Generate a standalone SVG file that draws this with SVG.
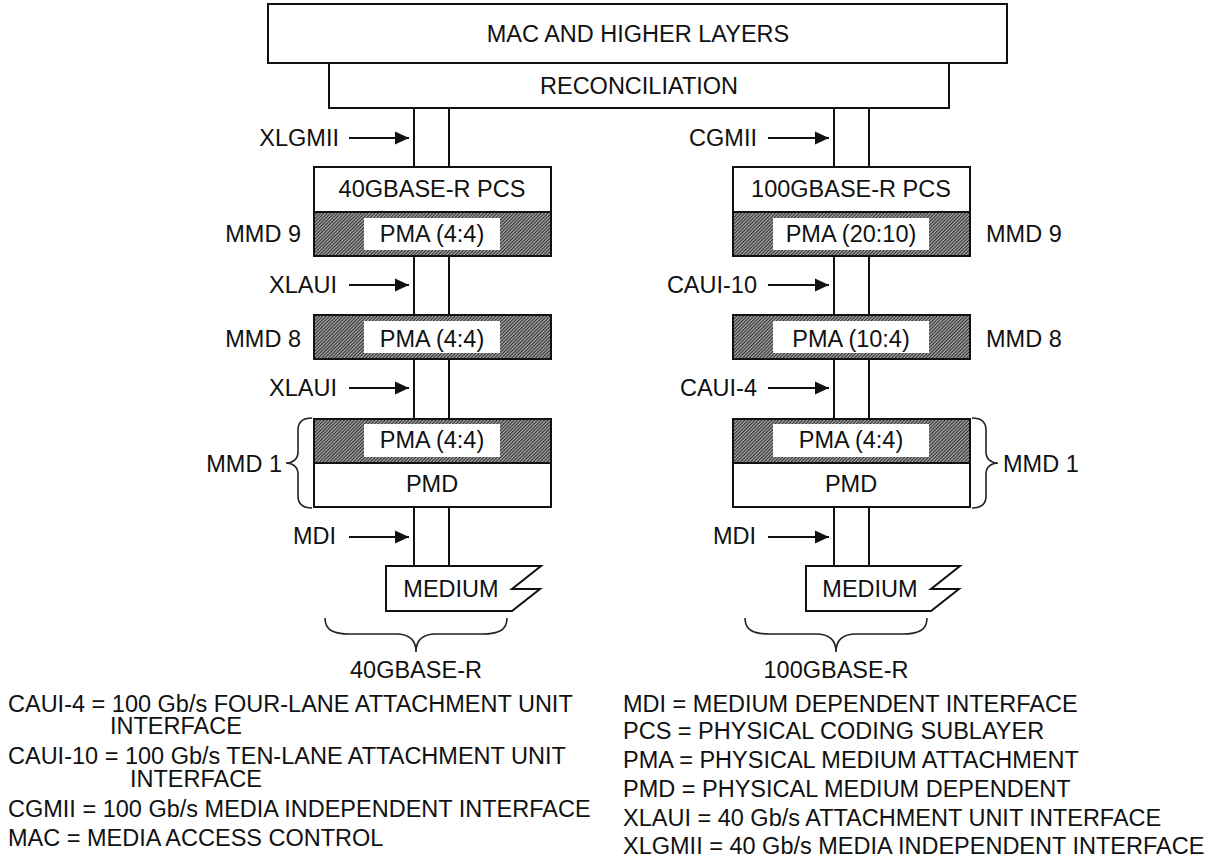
<svg xmlns="http://www.w3.org/2000/svg" width="1217" height="865" viewBox="0 0 1217 865">
  <style>
    text { font-family: "Liberation Sans", Arial, sans-serif; font-size: 23.5px; fill: #111; }
    .c { text-anchor: middle; }
    .e { text-anchor: end; }
    .box { fill: #fff; stroke: #111; stroke-width: 2; }
    .hatch { fill: url(#hatch); stroke: #111; stroke-width: 2; }
    .inner { fill: #fff; stroke: none; }
    .link { stroke: #111; stroke-width: 2; fill: none; }
    .arrow { stroke: #111; stroke-width: 2.2; fill: none; marker-end: url(#head); }
    .brace { stroke: #222; stroke-width: 1.6; fill: none; }
  </style>
  <defs>
    <!-- fine diagonal shading used for the PMA sublayers -->
    <pattern id="hatch" patternUnits="userSpaceOnUse" width="2.4" height="2.4" patternTransform="rotate(45)">
      <rect width="2.4" height="2.4" fill="#a8a8a8"/>
      <rect width="1.1" height="2.4" fill="#2e2e2e"/>
    </pattern>
    <marker id="head" markerWidth="14" markerHeight="14" refX="14" refY="7" orient="auto" markerUnits="userSpaceOnUse">
      <path d="M0,0.5 L14,7 L0,13.5 Z" fill="#111"/>
    </marker>
  </defs>

  <!-- shared upper layers -->
  <g id="mac">
    <rect class="box" x="268" y="4" width="739" height="59"/>
    <text class="c" x="638" y="42">MAC AND HIGHER LAYERS</text>
  </g>
  <g id="reconciliation">
    <rect class="box" x="329" y="63" width="620" height="45"/>
    <text class="c" x="639" y="94">RECONCILIATION</text>
  </g>

  <!-- vertical links between sublayers -->
  <g id="connectors">
    <path class="link" d="M414,108 V167 M449,108 V167"/>
    <path class="link" d="M414,256 V315 M449,256 V315"/>
    <path class="link" d="M414,359 V419 M449,359 V419"/>
    <path class="link" d="M414,507 V566 M449,507 V566"/>
    <path class="link" d="M834,108 V167 M869,108 V167"/>
    <path class="link" d="M834,256 V315 M869,256 V315"/>
    <path class="link" d="M834,359 V419 M869,359 V419"/>
    <path class="link" d="M834,507 V566 M869,507 V566"/>
    <!-- interface pointers -->
    <line class="arrow" x1="349" y1="138" x2="409" y2="138"/>
    <line class="arrow" x1="349" y1="285" x2="409" y2="285"/>
    <line class="arrow" x1="349" y1="388" x2="409" y2="388"/>
    <line class="arrow" x1="349" y1="537" x2="409" y2="537"/>
    <line class="arrow" x1="768" y1="138" x2="829" y2="138"/>
    <line class="arrow" x1="768" y1="285" x2="829" y2="285"/>
    <line class="arrow" x1="768" y1="388" x2="829" y2="388"/>
    <line class="arrow" x1="768" y1="537" x2="829" y2="537"/>
  </g>

  <!-- interface labels -->
  <g id="labels-40g">
    <text class="e" x="339" y="146">XLGMII</text>
    <text class="e" x="337" y="293">XLAUI</text>
    <text class="e" x="337" y="396">XLAUI</text>
    <text class="e" x="336" y="544">MDI</text>
    <text class="e" x="301" y="242">MMD 9</text>
    <text class="e" x="301" y="347">MMD 8</text>
    <text class="e" x="282" y="472">MMD 1</text>
  </g>
  <g id="labels-100g">
    <text class="e" x="757" y="146">CGMII</text>
    <text class="e" x="757" y="293">CAUI-10</text>
    <text class="e" x="757" y="396">CAUI-4</text>
    <text class="e" x="756" y="544">MDI</text>
    <text x="986" y="242">MMD 9</text>
    <text x="986" y="347">MMD 8</text>
    <text x="1003" y="472">MMD 1</text>
  </g>

  <!-- 40GBASE-R stack -->
  <g id="pcs-40g">
    <rect class="box" x="314" y="167" width="237" height="45"/>
    <text class="c" x="432" y="197">40GBASE-R PCS</text>
  </g>
  <g id="pma9-40g">
    <rect class="hatch" x="314" y="212" width="237" height="44"/>
    <rect class="inner" x="364" y="218" width="136" height="32"/>
    <text class="c" x="432" y="242">PMA (4:4)</text>
  </g>
  <g id="pma8-40g">
    <rect class="hatch" x="314" y="315" width="237" height="44"/>
    <rect class="inner" x="364" y="321" width="136" height="32"/>
    <text class="c" x="432" y="347">PMA (4:4)</text>
  </g>
  <g id="pma1-40g">
    <rect class="hatch" x="314" y="419" width="237" height="44"/>
    <rect class="inner" x="364" y="424" width="136" height="33"/>
    <text class="c" x="432" y="448">PMA (4:4)</text>
  </g>
  <g id="pmd-40g">
    <rect class="box" x="314" y="463" width="237" height="44"/>
    <text class="c" x="432" y="492">PMD</text>
  </g>
  <g id="medium-40g">
    <path class="box" d="M386,566 H541 L512,589 H540 L512,611 H386 Z"/>
    <text class="c" x="451" y="597">MEDIUM</text>
  </g>
  <g id="mmd1-brace-40g">
    <path class="brace" d="M312,418 C302,418 298,422 298,430 L298,452 C298,459 293,463 286,463 C293,463 298,467 298,474 L298,496 C298,504 302,508 312,508"/>
  </g>
  <g id="phy-40g">
    <path class="brace" d="M325,618 C325,630 333,634 350,634 L396,634 C409,634 416,640 416,652 C416,640 423,634 436,634 L482,634 C499,634 507,630 507,618"/>
    <text class="c" x="416" y="678">40GBASE-R</text>
  </g>

  <!-- 100GBASE-R stack -->
  <g id="pcs-100g">
    <rect class="box" x="733" y="167" width="237" height="45"/>
    <text class="c" x="851" y="197">100GBASE-R PCS</text>
  </g>
  <g id="pma9-100g">
    <rect class="hatch" x="733" y="212" width="237" height="44"/>
    <rect class="inner" x="773" y="218" width="156" height="32"/>
    <text class="c" x="851" y="242">PMA (20:10)</text>
  </g>
  <g id="pma8-100g">
    <rect class="hatch" x="733" y="315" width="237" height="44"/>
    <rect class="inner" x="773" y="321" width="156" height="32"/>
    <text class="c" x="851" y="347">PMA (10:4)</text>
  </g>
  <g id="pma1-100g">
    <rect class="hatch" x="733" y="419" width="237" height="44"/>
    <rect class="inner" x="773" y="424" width="156" height="33"/>
    <text class="c" x="851" y="448">PMA (4:4)</text>
  </g>
  <g id="pmd-100g">
    <rect class="box" x="733" y="463" width="237" height="44"/>
    <text class="c" x="851" y="492">PMD</text>
  </g>
  <g id="medium-100g">
    <path class="box" d="M806,566 H960 L931,589 H959 L931,611 H806 Z"/>
    <text class="c" x="870" y="597">MEDIUM</text>
  </g>
  <g id="mmd1-brace-100g">
    <path class="brace" d="M972,418 C982,418 986,422 986,430 L986,452 C986,459 991,463 998,463 C991,463 986,467 986,474 L986,496 C986,504 982,508 972,508"/>
  </g>
  <g id="phy-100g">
    <path class="brace" d="M745,618 C745,630 753,634 770,634 L816,634 C829,634 836,640 836,652 C836,640 843,634 856,634 L902,634 C919,634 927,630 927,618"/>
    <text class="c" x="836" y="678">100GBASE-R</text>
  </g>

  <!-- abbreviations -->
  <g id="legend-left">
    <text x="8" y="712">CAUI-4 = 100 Gb/s FOUR-LANE ATTACHMENT UNIT</text>
    <text x="110" y="734">INTERFACE</text>
    <text x="8" y="764">CAUI-10 = 100 Gb/s TEN-LANE ATTACHMENT UNIT</text>
    <text x="130" y="787">INTERFACE</text>
    <text x="8" y="817">CGMII = 100 Gb/s MEDIA INDEPENDENT INTERFACE</text>
    <text x="8" y="846">MAC = MEDIA ACCESS CONTROL</text>
  </g>
  <g id="legend-right">
    <text x="623" y="712">MDI = MEDIUM DEPENDENT INTERFACE</text>
    <text x="623" y="739">PCS = PHYSICAL CODING SUBLAYER</text>
    <text x="623" y="768">PMA = PHYSICAL MEDIUM ATTACHMENT</text>
    <text x="623" y="797">PMD = PHYSICAL MEDIUM DEPENDENT</text>
    <text x="623" y="826">XLAUI = 40 Gb/s ATTACHMENT UNIT INTERFACE</text>
    <text x="623" y="854">XLGMII = 40 Gb/s MEDIA INDEPENDENT INTERFACE</text>
  </g>
</svg>
